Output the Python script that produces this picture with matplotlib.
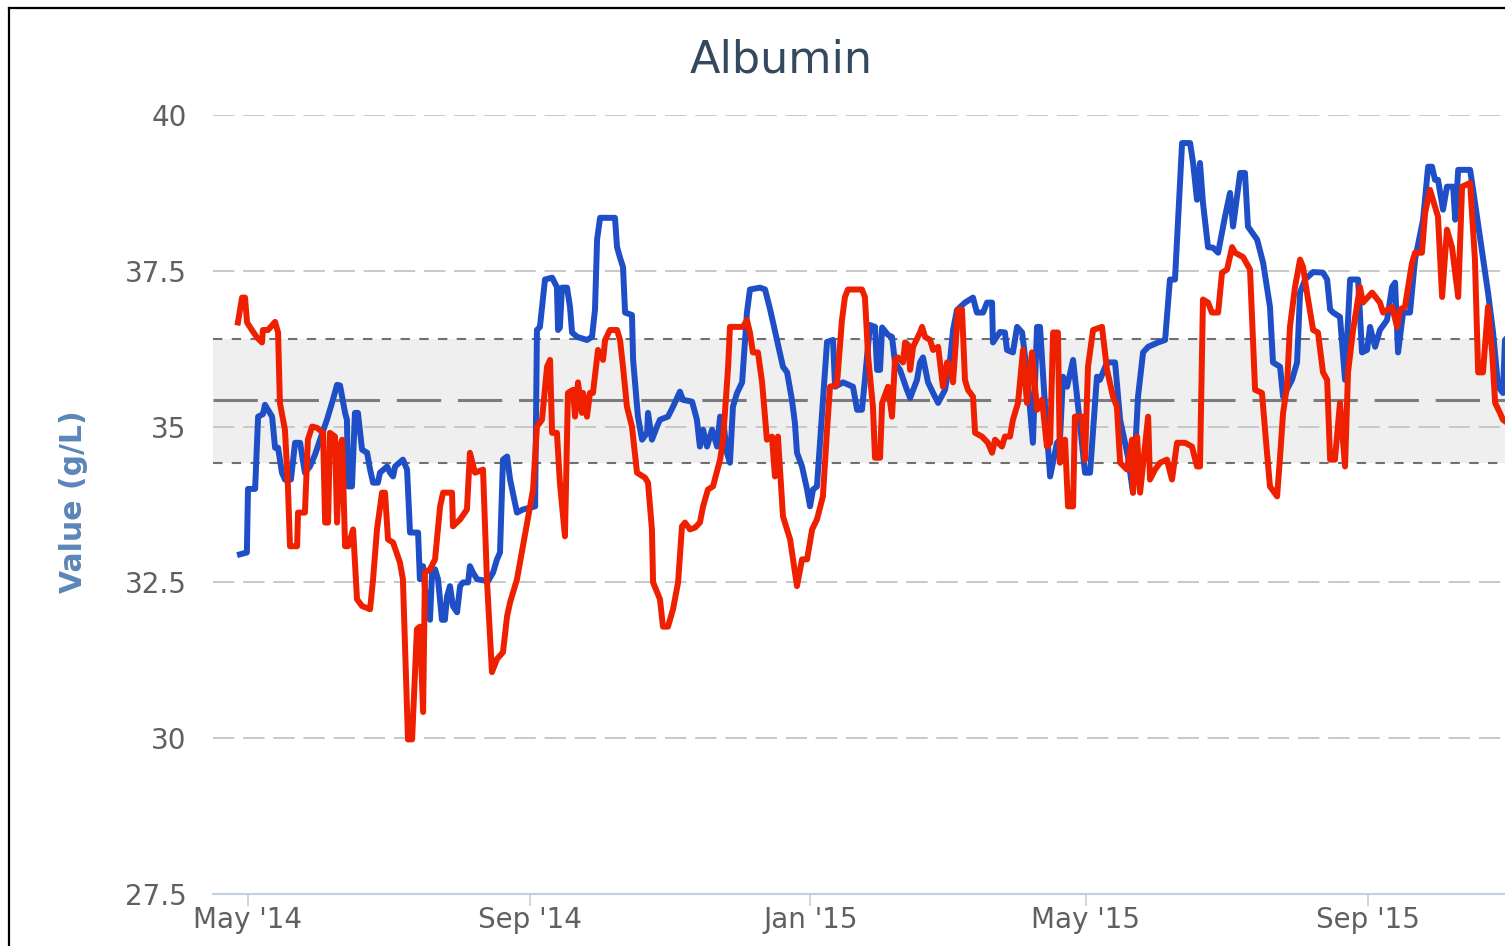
import matplotlib
matplotlib.use("Agg")
import matplotlib.pyplot as plt
import matplotlib.dates as mdates
import numpy as np
import pandas as pd

# days are counted from 1 May 2014
start = pd.Timestamp("2014-05-01")

blue_days = [-3.5, -0.5, 0.0, 3.1, 4.4, 6.5, 7.4, 10.5, 11.8, 13.1, 14.8, 16.1, 18.7, 20.5, 22.7,
             24.8, 27.0, 29.2, 31.4, 34.4, 37.0, 38.8, 40.1, 42.3, 43.1, 43.6, 45.3, 46.6, 47.9,
             49.7, 51.9, 53.2, 54.5, 56.6, 57.5, 60.6, 61.9, 63.2, 64.1, 67.5, 69.3, 70.6, 74.1,
             74.9, 76.3, 78.0, 79.3, 80.2, 81.5, 82.8, 84.5, 85.8, 86.7, 88.0, 89.3, 91.1, 92.4,
             93.7, 95.9, 96.7, 98.0, 99.8, 104.6, 106.8, 108.5, 109.8, 111.1, 112.9, 114.2, 117.2,
             119.8, 125.1, 125.9, 127.2, 129.4, 132.5, 134.6, 135.1, 135.9, 136.8, 139.0, 140.3,
             141.2, 143.4, 147.7, 149.9, 151.2, 152.1, 153.4, 159.9, 160.8, 162.1, 163.4, 164.3,
             167.3, 167.8, 169.9, 171.7, 173.9, 174.3, 176.0, 178.2, 179.5, 183.0, 185.2, 188.2,
             189.5, 193.5, 195.6, 196.9, 198.3, 200.0, 202.2, 204.4, 205.7, 207.0, 208.7, 210.0,
             211.3, 213.1, 215.3, 217.4, 218.7, 223.1, 225.3, 227.5, 230.5, 233.1, 234.9, 237.0,
             238.3, 239.2, 241.4, 243.6, 244.9, 246.2, 247.9, 252.3, 254.9, 255.8, 259.3, 263.6,
             265.4, 267.5, 268.8, 271.0, 273.2, 274.1, 275.4, 276.3, 278.9, 280.6, 281.9, 284.1,
             287.1, 288.5, 291.5, 292.8, 294.1, 296.3, 298.5, 300.7, 303.7, 305.9, 307.2, 308.9,
             312.4, 315.9, 317.6, 320.3, 322.0, 324.2, 324.6, 327.7, 329.8, 330.7, 333.3, 335.1,
             337.3, 339.4, 342.0, 343.8, 345.1, 347.3, 349.5, 352.5, 353.8, 355.1, 356.9, 359.5,
             361.7, 364.7, 366.9, 369.9, 371.2, 374.3, 377.8, 380.0, 383.4, 385.6, 387.8, 390.0,
             392.2, 396.5, 399.6, 401.7, 403.9, 407.0, 410.5, 411.8, 413.5, 414.8, 416.1, 418.3,
             420.5, 422.7, 425.7, 427.9, 429.2, 432.3, 434.4, 435.7, 439.7, 442.3, 445.3, 446.6,
             449.7, 451.0, 454.9, 457.1, 458.4, 460.6, 464.1, 468.4, 470.2, 471.5, 472.8, 475.8,
             478.0, 480.2, 483.7, 485.4, 487.6, 488.9, 491.1, 493.2, 496.3, 498.5, 499.8, 501.1,
             503.3, 506.3, 508.5, 512.0, 514.2, 515.9, 517.2, 518.5, 520.7, 522.4, 525.1, 526.0,
             527.3, 532.5, 533.8, 536.8, 540.3, 542.5, 544.7, 546.8, 547.7, 549.9]
blue_vals = [32.95, 32.98, 34.0, 34.0, 35.16, 35.2, 35.35, 35.16, 34.66, 34.66, 34.26, 34.15, 34.15,
             34.74, 34.74, 34.26, 34.36, 34.55, 34.79, 35.11, 35.43, 35.67, 35.66, 35.22, 35.11,
             34.04, 34.04, 35.22, 35.22, 34.63, 34.58, 34.31, 34.1, 34.1, 34.26, 34.36, 34.26, 34.2,
             34.36, 34.47, 34.31, 33.3, 33.3, 32.55, 32.76, 32.02, 31.9, 32.66, 32.71, 32.55, 31.9,
             31.9, 32.27, 32.44, 32.12, 32.02, 32.44, 32.5, 32.5, 32.76, 32.66, 32.55, 32.52, 32.66,
             32.87, 32.98, 34.47, 34.52, 34.15, 33.62, 33.67, 33.72, 36.55, 36.6, 37.36, 37.39,
             37.24, 36.55, 36.59, 37.23, 37.23, 36.92, 36.51, 36.44, 36.39, 36.44, 36.88, 38.0,
             38.35, 38.35, 37.88, 37.71, 37.56, 36.83, 36.79, 36.07, 35.16, 34.79, 34.9, 35.22,
             34.79, 35.0, 35.11, 35.16, 35.32, 35.56, 35.43, 35.4, 35.11, 34.68, 34.95, 34.68, 34.95,
             34.68, 35.16, 35.11, 34.58, 34.42, 35.32, 35.54, 35.71, 36.83, 37.2, 37.23, 37.2,
             36.88, 36.39, 35.96, 35.87, 35.43, 35.06, 34.58, 34.36, 33.99, 33.72, 33.99, 34.04,
             36.36, 36.39, 35.64, 35.71, 35.64, 35.27, 35.27, 35.75, 36.63, 36.6, 35.91, 35.91,
             36.59, 36.47, 36.44, 36.03, 35.91, 35.59, 35.46, 35.75, 36.03, 36.11, 35.71, 35.54,
             35.38, 35.59, 36.07, 36.55, 36.87, 36.99, 37.07, 36.83, 36.83, 36.99, 36.99, 36.35,
             36.52, 36.51, 36.23, 36.19, 36.6, 36.51, 35.87, 34.74, 36.6, 36.6, 35.32, 34.2, 34.74,
             34.79, 35.8, 35.64, 36.07, 35.32, 34.26, 34.26, 35.8, 35.75, 36.03, 36.03, 35.11,
             34.52, 33.94, 35.48, 36.19, 36.28, 36.35, 36.39, 37.36, 37.36, 39.55, 39.55, 39.23,
             38.64, 39.23, 38.59, 37.88, 37.87, 37.79, 38.37, 38.75, 38.21, 39.07, 39.07, 38.21,
             38.0, 37.63, 36.92, 36.03, 35.96, 35.48, 35.75, 36.03, 37.15, 37.36, 37.48, 37.47,
             37.36, 36.88, 36.83, 36.76, 35.75, 37.36, 37.36, 36.19, 36.23, 36.6, 36.28, 36.55,
             36.71, 37.24, 37.31, 36.19, 36.83, 36.83, 37.68, 38.32, 39.17, 39.17, 38.96, 38.96,
             38.48, 38.85, 38.85, 38.32, 39.12, 39.12, 38.8, 38.04, 37.15, 36.51, 35.64, 35.54,
             36.39, 36.47]

red_days = [-4.4, -2.6, -1.3, -0.4, 1.7, 3.9, 6.1, 6.5, 8.7, 11.8, 13.1, 13.9, 16.1, 17.4, 18.3,
            21.4, 21.8, 24.8, 26.1, 27.9, 30.1, 32.7, 33.6, 34.9, 35.7, 37.9, 38.8, 40.1, 41.0,
            42.3, 43.6, 45.8, 47.5, 49.7, 53.2, 54.5, 56.2, 58.4, 59.7, 61.0, 63.2, 66.2, 67.5,
            69.7, 71.5, 73.6, 74.9, 76.3, 77.1, 79.3, 81.5, 83.7, 85.0, 88.9, 89.3, 92.4, 95.4,
            96.7, 98.9, 102.4, 104.1, 106.3, 108.5, 111.1, 112.9, 114.2, 117.2, 119.8, 122.9,
            124.2, 125.9, 128.1, 130.3, 131.6, 132.5, 134.6, 135.9, 138.1, 139.4, 141.6, 142.5,
            143.8, 145.5, 146.0, 147.7, 149.0, 150.3, 152.5, 154.7, 155.6, 157.7, 160.8, 162.1,
            163.4, 165.1, 167.3, 169.5, 173.0, 174.3, 176.0, 176.5, 179.5, 180.8, 183.0, 185.2,
            187.4, 189.1, 190.4, 192.6, 194.8, 196.9, 198.3, 200.4, 202.6, 205.7, 207.0, 209.2,
            210.0, 215.7, 217.4, 218.7, 220.0, 222.2, 224.0, 226.1, 228.3, 229.6, 230.9, 233.1,
            236.2, 239.2, 241.4, 243.6, 245.8, 247.9, 250.5, 252.3, 253.6, 256.6, 258.8, 260.1,
            261.4, 267.5, 268.8, 270.2, 272.3, 273.2, 275.4, 276.3, 278.9, 280.6, 281.9, 283.2,
            285.4, 286.3, 287.6, 288.5, 289.8, 292.8, 293.7, 295.0, 297.2, 298.5, 300.7, 302.8,
            304.6, 305.9, 307.2, 309.4, 311.1, 312.4, 313.7, 315.9, 316.8, 319.8, 322.4, 324.2,
            325.5, 328.5, 329.8, 332.0, 333.3, 335.5, 337.7, 339.4, 341.6, 343.8, 346.0, 348.1,
            349.5, 350.8, 352.9, 353.8, 356.0, 357.3, 359.5, 360.3, 363.4, 364.7, 366.0, 368.2,
            372.1, 374.3, 376.9, 378.6, 380.0, 383.0, 385.2, 385.6, 387.4, 388.7, 392.2, 393.0,
            395.2, 397.4, 400.4, 402.6, 404.8, 408.3, 411.3, 413.5, 414.8, 416.1, 418.3, 420.0,
            422.7, 424.4, 426.6, 428.8, 430.1, 433.6, 436.6, 438.8, 441.8, 444.0, 445.3, 448.4,
            449.7, 451.0, 452.7, 454.0, 456.2, 458.4, 459.7, 461.4, 464.1, 466.2, 468.4, 470.2,
            471.5, 473.6, 475.8, 478.0, 479.3, 481.5, 484.5, 485.8, 489.8, 493.2, 494.6, 498.5,
            500.7, 502.0, 504.1, 507.2, 508.5, 511.5, 512.9, 515.0, 516.3, 518.5, 520.3, 522.4,
            524.6, 527.3, 529.0, 532.5, 534.6, 536.0, 538.1, 540.3, 542.1, 543.4, 545.5, 546.8,
            549.9]
red_vals = [36.67, 37.07, 37.07, 36.67, 36.55, 36.43, 36.35, 36.55, 36.55, 36.68, 36.51, 35.38,
            34.95, 34.04, 33.08, 33.08, 33.62, 33.62, 34.79, 35.0, 34.98, 34.9, 33.46, 33.46, 34.9,
            34.84, 33.46, 34.68, 34.79, 33.08, 33.08, 33.35, 32.23, 32.12, 32.07, 32.55, 33.35,
            33.94, 33.94, 33.19, 33.14, 32.82, 32.55, 29.98, 29.98, 31.75, 31.79, 30.42, 32.66,
            32.71, 32.87, 33.72, 33.94, 33.94, 33.4, 33.51, 33.67, 34.58, 34.26, 34.31, 32.55,
            31.06, 31.27, 31.38, 31.96, 32.18, 32.55, 33.08, 33.72, 33.99, 35.0, 35.11, 35.96,
            36.07, 34.9, 34.9, 34.1, 33.24, 35.54, 35.59, 35.16, 35.71, 35.22, 35.54, 35.16, 35.54,
            35.54, 36.23, 36.07, 36.39, 36.55, 36.55, 36.39, 35.96, 35.32, 35.0, 34.26, 34.18,
            34.1, 33.35, 32.5, 32.23, 31.79, 31.79, 32.07, 32.5, 33.4, 33.46, 33.35, 33.38, 33.46,
            33.72, 33.99, 34.04, 34.47, 34.79, 35.96, 36.6, 36.6, 36.71, 36.51, 36.19, 36.19,
            35.71, 34.79, 34.84, 34.2, 34.84, 33.56, 33.19, 32.44, 32.87, 32.87, 33.35, 33.51,
            33.88, 34.95, 35.64, 35.67, 36.71, 37.08, 37.2, 37.2, 37.08, 36.12, 35.32, 34.5, 34.5,
            35.38, 35.64, 35.16, 36.07, 36.11, 36.03, 36.35, 36.31, 35.91, 36.28, 36.51, 36.6,
            36.44, 36.39, 36.23, 36.28, 35.64, 36.03, 35.96, 35.71, 36.88, 36.88, 35.75, 35.59,
            35.48, 34.9, 34.84, 34.74, 34.58, 34.79, 34.68, 34.84, 34.84, 35.11, 35.38, 36.23,
            35.38, 36.19, 35.27, 35.43, 34.68, 34.74, 36.51, 36.51, 34.42, 34.79, 33.72, 33.72,
            35.16, 35.16, 34.47, 35.96, 36.55, 36.6, 35.91, 35.48, 35.32, 34.42, 34.31, 34.79,
            33.94, 34.84, 33.94, 35.16, 34.15, 34.31, 34.42, 34.47, 34.15, 34.74, 34.74, 34.68,
            34.36, 34.36, 37.04, 36.99, 36.83, 36.83, 37.47, 37.52, 37.88, 37.79, 37.72, 37.52,
            35.59, 35.54, 34.58, 34.04, 33.88, 34.52, 35.22, 35.64, 36.6, 37.24, 37.68, 37.56,
            37.15, 36.55, 36.51, 35.87, 35.75, 34.47, 34.47, 35.38, 34.36, 35.87, 36.55, 37.24,
            36.99, 37.15, 36.99, 36.83, 36.92, 36.6, 36.88, 36.92, 37.63, 37.79, 37.79, 38.43,
            38.8, 38.64, 38.37, 37.08, 38.16, 37.88, 37.08, 38.85, 38.91, 37.68, 35.87, 35.87,
            36.92, 36.19, 35.38, 35.22, 35.11, 35.03]

# reference band
ref_low = 34.42
ref_mean = 35.42
ref_high = 36.41

y_ticks = [27.5, 30, 32.5, 35, 37.5, 40]
y_tick_labels = ["27.5", "30", "32.5", "35", "37.5", "40"]
x_ticks = ["2014-05-01", "2014-09-01", "2015-01-01", "2015-05-01", "2015-09-01"]

W, H = 1505, 946
fig = plt.figure(figsize=(W / 100, H / 100), dpi=100)
fig.patch.set_facecolor("white")

ax = fig.add_axes([213 / W, 1 - 894 / H, (W - 213) / W, (894 - 115) / H])


def to_dates(d):
    return start + pd.to_timedelta(np.array(d), unit="D")


ax.axhspan(ref_low, ref_high, color="#efefef", zorder=0, lw=0)
for yv in y_ticks[1:]:
    ax.axhline(yv, color="#c8c8c8", lw=1.4, dashes=(11, 4.5), zorder=1)
for yv in (ref_low, ref_high):
    ax.axhline(yv, color="#707070", lw=1.5, dashes=(4.5, 4.5), zorder=2)
ax.axhline(ref_mean, color="#7c7c7c", lw=2.2, dashes=(14.5, 5.5), zorder=2)

ax.plot(to_dates(blue_days), blue_vals, color="#1f4fc6", lw=4.3, solid_joinstyle="round", zorder=3)
ax.plot(to_dates(red_days), red_vals, color="#ee2000", lw=4.3, solid_joinstyle="round", zorder=4)

ax.set_ylim(27.5, 40)
ax.set_xlim(to_dates([-15.25])[0], to_dates([547.7])[0])
ax.set_yticks(y_ticks)
ax.set_yticklabels(y_tick_labels)
ax.set_xticks(pd.to_datetime(x_ticks))
ax.xaxis.set_major_formatter(mdates.DateFormatter("%b '%y"))

for s in ("top", "right", "left"):
    ax.spines[s].set_visible(False)
ax.spines["bottom"].set_color("#c0d0e0")
ax.spines["bottom"].set_linewidth(1.5)
ax.tick_params(axis="y", length=0, pad=19, labelsize=20, labelcolor="#606060")
ax.tick_params(axis="x", length=8.5, width=1.2, color="#c0d0e0", pad=0, labelsize=20,
               labelcolor="#606060")
ax.set_facecolor("white")

fig.text(781 / W, 1 - 60 / H, "Albumin", ha="center", va="center", fontsize=32, color="#34495e")
fig.text(73 / W, 1 - 502 / H, "Value (g/L)", ha="center", va="center", rotation=90,
         fontsize=21.5, fontweight="bold", color="#5b86b8")

# outer frame (cropped on the right)
fig.add_artist(plt.Line2D([9 / W, 9 / W], [0, 1 - 8 / H], color="black", lw=1.6))
fig.add_artist(plt.Line2D([9 / W, 1], [1 - 8 / H, 1 - 8 / H], color="black", lw=1.6))

fig.savefig("out.png", dpi=100, facecolor="white")
